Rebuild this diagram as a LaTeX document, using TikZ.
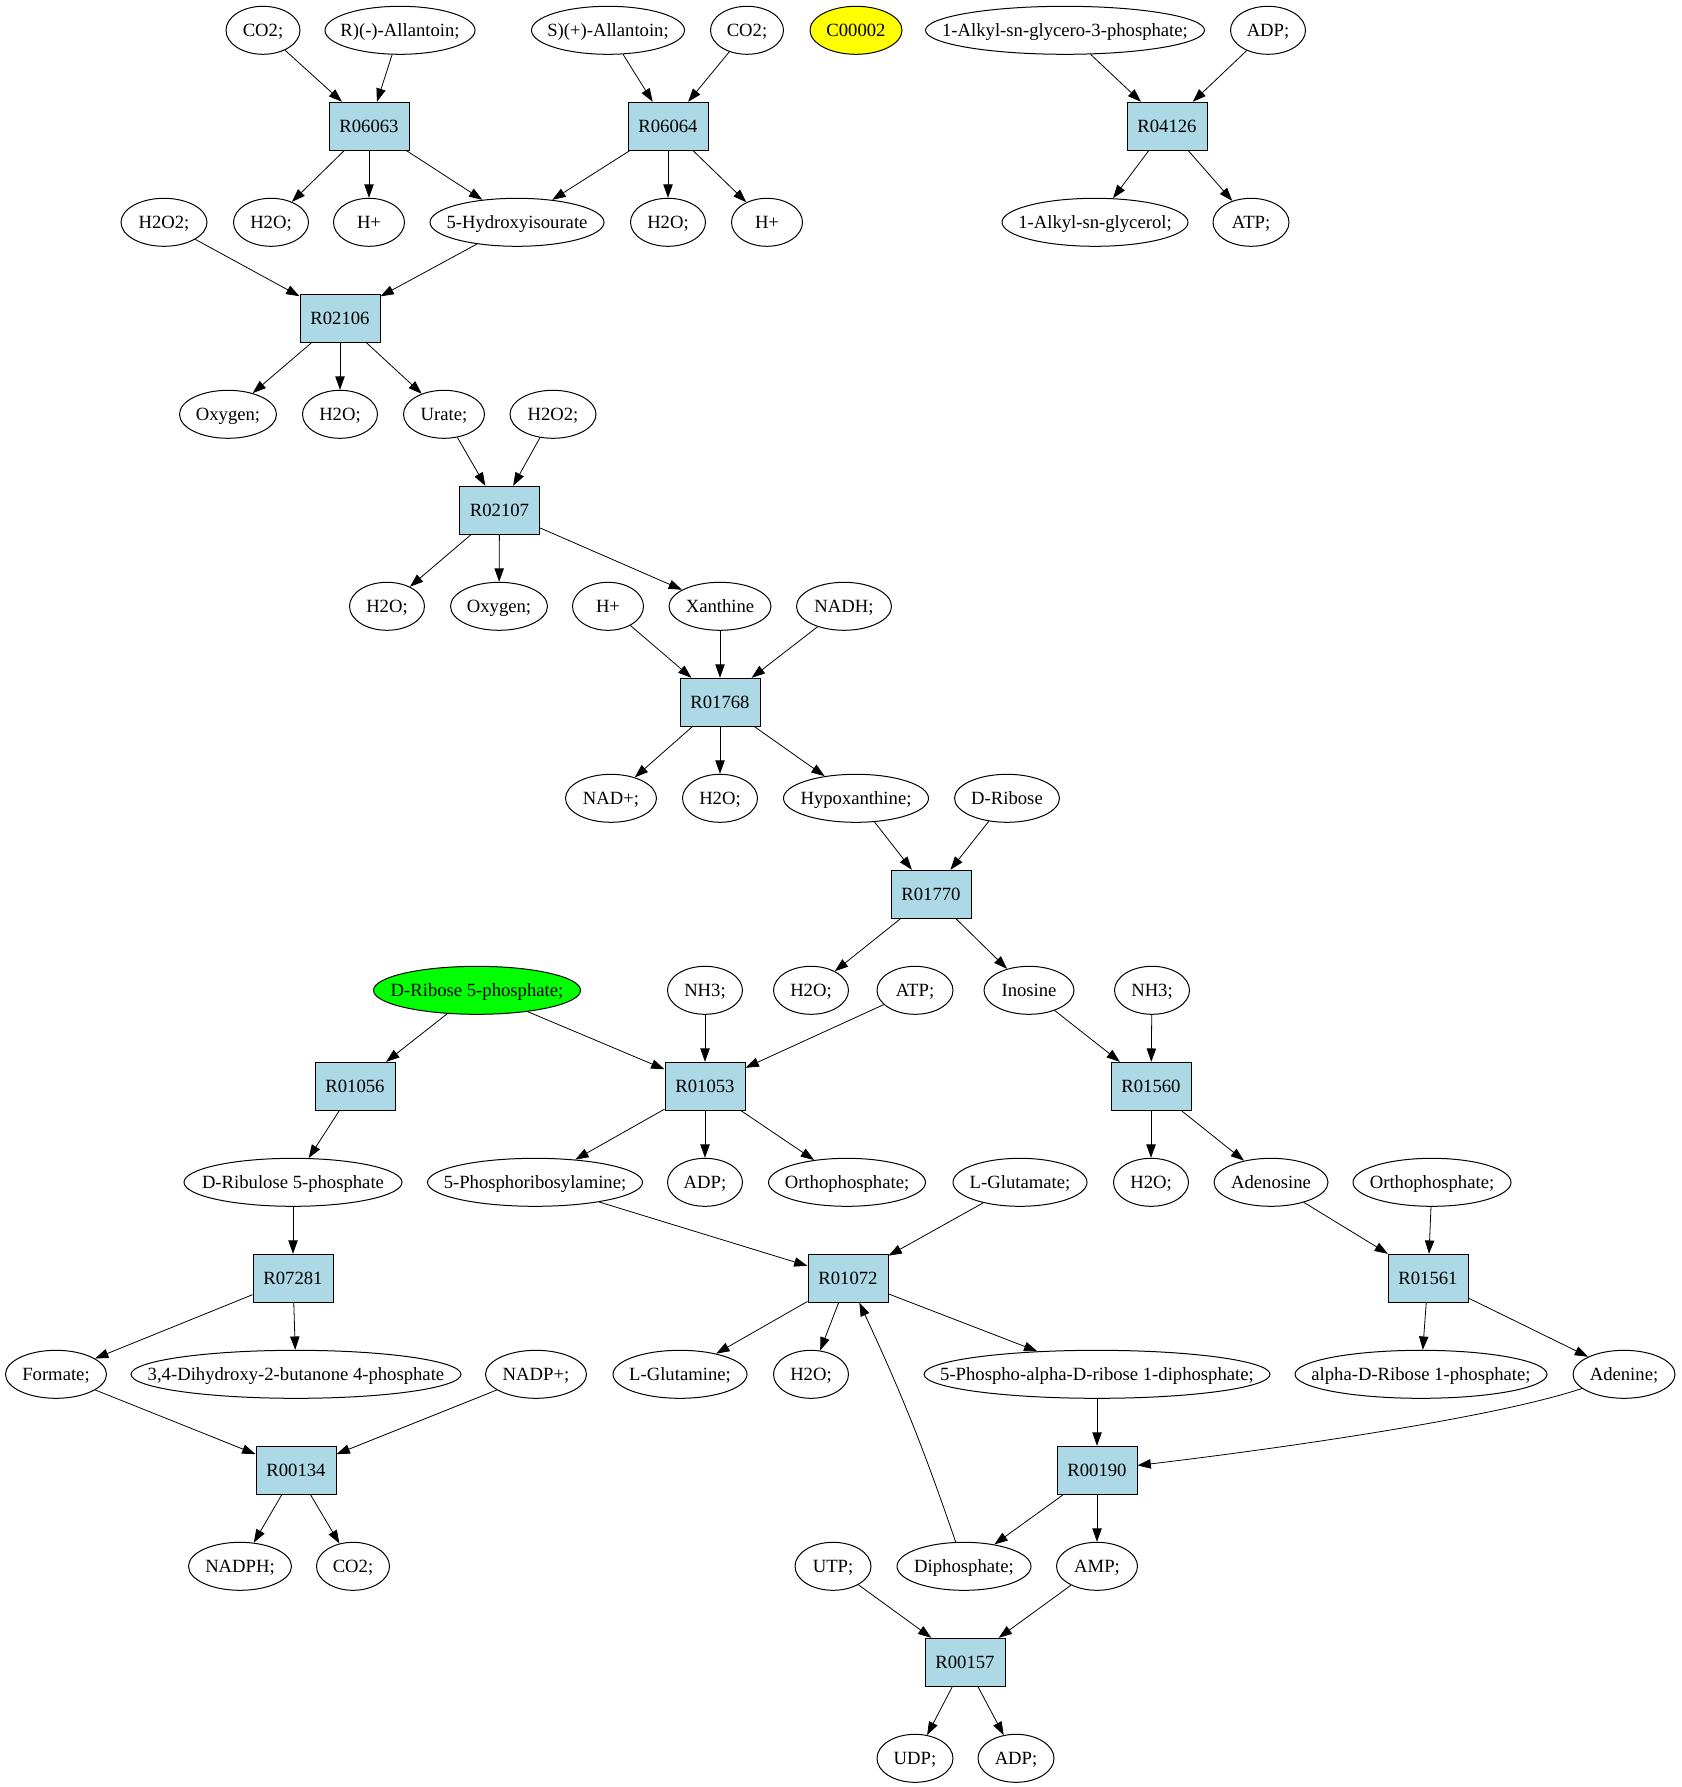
\documentclass[tikz,border=0pt]{standalone}
\usepackage{fontspec}
\setmainfont{Liberation Serif}
\usetikzlibrary{shapes.geometric,arrows.meta}
\definecolor{lblue}{HTML}{ADD8E6}
\definecolor{gvyellow}{HTML}{FFFF00}
\definecolor{gvgreen}{HTML}{00FF00}
\newcommand\zw[1]{\makebox[0pt]{#1}}
\begin{document}
\begin{tikzpicture}[x=0.75pt,y=-0.75pt,
  met/.style={ellipse,draw,line width=0.75pt,minimum height=36pt,inner xsep=0pt,inner ysep=1pt,text height=9.4pt,text depth=0pt,font=\fontsize{14pt}{16pt}\selectfont},
  mw/.style={minimum width=#1*0.75pt},
  rx/.style={rectangle,draw,line width=0.75pt,fill=lblue,minimum width=60pt,minimum height=36pt,inner sep=0pt,text height=9.4pt,text depth=0pt,font=\fontsize{14pt}{16pt}\selectfont},
  edge/.style={-{Triangle[length=10pt,width=7pt]},line width=0.6pt}]
\useasboundingbox (0,0) rectangle (1681,1787);
\begin{scope}[shift={(0,1)}]
% row 0
\node[met,mw=74]  (co2a) at (263,29.3) {\zw{CO2;}};
\node[met,mw=150] (rall) at (400,29.3) {\zw{R)(-)-Allantoin;}};
\node[met,mw=153] (sall) at (608,29.3) {\zw{S)(+)-Allantoin;}};
\node[met,mw=73]  (co2b) at (747,29.3) {\zw{CO2;}};
\node[met,mw=92,fill=gvyellow] (c2) at (856,29.3) {\zw{C00002}};
\node[met,mw=279] (ag3p) at (1065,29.3) {\zw{1-Alkyl-sn-glycero-3-phosphate;}};
\node[met,mw=75]  (adpa) at (1268,29.3) {\zw{ADP;}};
% row 1
\node[rx] (r06063) at (369,125.3) {R06063};
\node[rx] (r06064) at (668,125.3) {R06064};
\node[rx] (r04126) at (1167,125.3) {R04126};
% row 2
\node[met,mw=86]  (h2o2a) at (164,221.3) {\zw{H2O2;}};
\node[met,mw=75]  (h2oa) at (271,221.3) {\zw{H2O;}};
\node[met,mw=71]  (hpa) at (369,221.3) {\zw{H+}};
\node[met,mw=174] (hiu) at (517,221.3) {\zw{5-Hydroxyisourate}};
\node[met,mw=75]  (h2ob) at (668,221.3) {\zw{H2O;}};
\node[met,mw=71]  (hpb) at (767,221.3) {\zw{H+}};
\node[met,mw=186] (alkg) at (1095,221.3) {\zw{1-Alkyl-sn-glycerol;}};
\node[met,mw=76]  (atpa) at (1251,221.3) {\zw{ATP;}};
% row 3
\node[rx] (r02106) at (340,317.3) {R02106};
% row 4
\node[met,mw=97] (oxya) at (228,413.3) {\zw{Oxygen;}};
\node[met,mw=75] (h2oc) at (340,413.3) {\zw{H2O;}};
\node[met,mw=81] (urate) at (444,413.3) {\zw{Urate;}};
\node[met,mw=86] (h2o2b) at (553,413.3) {\zw{H2O2;}};
% row 5
\node[rx] (r02107) at (499.5,509.3) {R02107};
% row 6
\node[met,mw=75]  (h2od) at (387,605.3) {\zw{H2O;}};
\node[met,mw=97]  (oxyb) at (499,605.3) {\zw{Oxygen;}};
\node[met,mw=71]  (hpc) at (608,605.3) {\zw{H+}};
\node[met,mw=102] (xan) at (720,605.3) {\zw{Xanthine}};
\node[met,mw=95]  (nadh) at (844,605.3) {\zw{NADH;}};
% row 7
\node[rx] (r01768) at (720,701.3) {R01768};
% row 8
\node[met,mw=91]  (nad) at (611,797.3) {\zw{NAD+;}};
\node[met,mw=75]  (h2oe) at (720,797.3) {\zw{H2O;}};
\node[met,mw=145] (hypox) at (856,797.3) {\zw{Hypoxanthine;}};
\node[met,mw=105] (drib) at (1007,797.3) {\zw{D-Ribose}};
% row 9
\node[rx] (r01770) at (931,893.3) {R01770};
% row 10
\node[met,mw=207,fill=gvgreen] (dr5p) at (477,989.3) {\zw{D-Ribose 5-phosphate;}};
\node[met,mw=75] (nh3a) at (705,989.3) {\zw{NH3;}};
\node[met,mw=75] (h2of) at (811,989.3) {\zw{H2O;}};
\node[met,mw=76] (atpb) at (915,989.3) {\zw{ATP;}};
\node[met,mw=90] (ino) at (1029,989.3) {\zw{Inosine}};
\node[met,mw=75] (nh3b) at (1152,989.3) {\zw{NH3;}};
% row 11
\node[rx] (r01056) at (355,1085.3) {R01056};
\node[rx] (r01053) at (705,1085.3) {R01053};
\node[rx] (r01560) at (1151,1085.3) {R01560};
% row 12
\node[met,mw=218] (drul) at (293,1181.3) {\zw{D-Ribulose 5-phosphate}};
\node[met,mw=215] (pra) at (535,1181.3) {\zw{5-Phosphoribosylamine;}};
\node[met,mw=75]  (adpb) at (705,1181.3) {\zw{ADP;}};
\node[met,mw=157] (orthoa) at (847,1181.3) {\zw{Orthophosphate;}};
\node[met,mw=134] (lglu) at (1020,1181.3) {\zw{L-Glutamate;}};
\node[met,mw=75]  (h2og) at (1151,1181.3) {\zw{H2O;}};
\node[met,mw=114] (adeno) at (1271,1181.3) {\zw{Adenosine}};
\node[met,mw=158] (orthob) at (1432,1181.3) {\zw{Orthophosphate;}};
% row 13
\node[rx] (r07281) at (293,1277.3) {R07281};
\node[rx] (r01072) at (848,1277.3) {R01072};
\node[rx] (r01561) at (1428,1277.3) {R01561};
% row 14
\node[met,mw=101] (form) at (56,1373.3) {\zw{Formate;}};
\node[met,mw=330] (dhb) at (296,1373.3) {\zw{3,4-Dihydroxy-2-butanone 4-phosphate}};
\node[met,mw=101] (nadp) at (536,1373.3) {\zw{NADP+;}};
\node[met,mw=134] (lgln) at (680,1373.3) {\zw{L-Glutamine;}};
\node[met,mw=75]  (h2oh) at (811,1373.3) {\zw{H2O;}};
\node[met,mw=346] (prpp) at (1097,1373.3) {\zw{5-Phospho-alpha-D-ribose 1-diphosphate;}};
\node[met,mw=252] (ar1p) at (1421,1373.3) {\zw{alpha-D-Ribose 1-phosphate;}};
\node[met,mw=102] (aden) at (1624,1373.3) {\zw{Adenine;}};
% row 15
\node[rx] (r00134) at (296,1469.3) {R00134};
\node[rx] (r00190) at (1097,1469.3) {R00190};
% row 16
\node[met,mw=103] (nadph) at (240,1565.3) {\zw{NADPH;}};
\node[met,mw=73]  (co2c) at (353,1565.3) {\zw{CO2;}};
\node[met,mw=76]  (utp) at (833,1565.3) {\zw{UTP;}};
\node[met,mw=134] (diph) at (964,1565.3) {\zw{Diphosphate;}};
\node[met,mw=81]  (amp) at (1097,1565.3) {\zw{AMP;}};
% row 17
\node[rx] (r00157) at (965,1661.3) {R00157};
% row 18
\node[met,mw=76] (udp) at (915,1757.3) {\zw{UDP;}};
\node[met,mw=76] (adpc) at (1016,1757.3) {\zw{ADP;}};
% edges
\draw[edge] (co2a) -- (r06063);
\draw[edge] (rall) -- (r06063);
\draw[edge] (r06063) -- (h2oa);
\draw[edge] (r06063) -- (hpa);
\draw[edge] (r06063) -- (hiu);
\draw[edge] (sall) -- (r06064);
\draw[edge] (co2b) -- (r06064);
\draw[edge] (r06064) -- (hiu);
\draw[edge] (r06064) -- (h2ob);
\draw[edge] (r06064) -- (hpb);
\draw[edge] (ag3p) -- (r04126);
\draw[edge] (adpa) -- (r04126);
\draw[edge] (r04126) -- (alkg);
\draw[edge] (r04126) -- (atpa);
\draw[edge] (h2o2a) -- (r02106);
\draw[edge] (hiu) -- (r02106);
\draw[edge] (r02106) -- (oxya);
\draw[edge] (r02106) -- (h2oc);
\draw[edge] (r02106) -- (urate);
\draw[edge] (urate) -- (r02107);
\draw[edge] (h2o2b) -- (r02107);
\draw[edge] (r02107) -- (h2od);
\draw[edge] (r02107) -- (oxyb);
\draw[edge] (r02107) -- (xan);
\draw[edge] (hpc) -- (r01768);
\draw[edge] (xan) -- (r01768);
\draw[edge] (nadh) -- (r01768);
\draw[edge] (r01768) -- (nad);
\draw[edge] (r01768) -- (h2oe);
\draw[edge] (r01768) -- (hypox);
\draw[edge] (hypox) -- (r01770);
\draw[edge] (drib) -- (r01770);
\draw[edge] (r01770) -- (h2of);
\draw[edge] (r01770) -- (ino);
\draw[edge] (dr5p) -- (r01056);
\draw[edge] (dr5p) -- (r01053);
\draw[edge] (nh3a) -- (r01053);
\draw[edge] (atpb) -- (r01053);
\draw[edge] (r01053) -- (pra);
\draw[edge] (r01053) -- (adpb);
\draw[edge] (r01053) -- (orthoa);
\draw[edge] (r01056) -- (drul);
\draw[edge] (ino) -- (r01560);
\draw[edge] (nh3b) -- (r01560);
\draw[edge] (r01560) -- (h2og);
\draw[edge] (r01560) -- (adeno);
\draw[edge] (drul) -- (r07281);
\draw[edge] (r07281) -- (form);
\draw[edge] (r07281) -- (dhb);
\draw[edge] (pra) -- (r01072);
\draw[edge] (lglu) -- (r01072);
\draw[edge] (diph) to[bend right=3] (r01072);
\draw[edge] (r01072) -- (lgln);
\draw[edge] (r01072) -- (h2oh);
\draw[edge] (r01072) -- (prpp);
\draw[edge] (adeno) -- (r01561);
\draw[edge] (orthob) -- (r01561);
\draw[edge] (r01561) -- (ar1p);
\draw[edge] (r01561) -- (aden);
\draw[edge] (form) -- (r00134);
\draw[edge] (nadp) -- (r00134);
\draw[edge] (r00134) -- (nadph);
\draw[edge] (r00134) -- (co2c);
\draw[edge] (prpp) -- (r00190);
\draw[edge] (aden) .. controls (1500,1415) and (1300,1445) .. (r00190);
\draw[edge] (r00190) -- (diph);
\draw[edge] (r00190) -- (amp);
\draw[edge] (utp) -- (r00157);
\draw[edge] (amp) -- (r00157);
\draw[edge] (r00157) -- (udp);
\draw[edge] (r00157) -- (adpc);
\end{scope}
\end{tikzpicture}
\end{document}
